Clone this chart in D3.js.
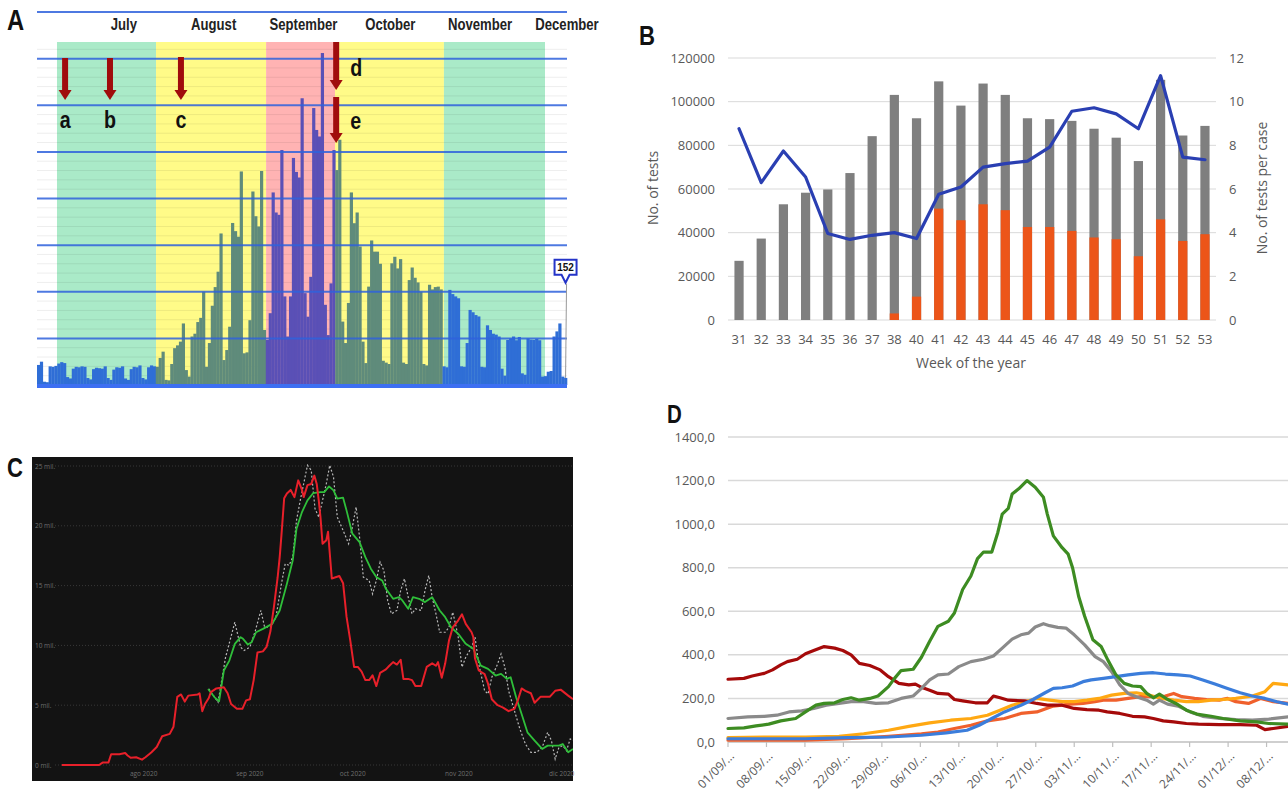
<!DOCTYPE html>
<html>
<head>
<meta charset="utf-8">
<script src="https://cdn.jsdelivr.net/npm/d3@7"></script>
<style>
  body { margin: 0; background: #fff; }
  svg { display: block; }
</style>
</head>
<body>
<svg id="fig" width="1288" height="795"></svg>
<script>
////////////////////////////////////////////////////////////
// DATA
////////////////////////////////////////////////////////////

// panel A: daily cases, day 0 = 1 June 2020
var casesA = [
  430, 500, 70, 60, 400, 390, 410, 460, 490, 470, 170, 140, 350, 390, 380, 400, 390, 150, 120, 340,
  370, 360, 350, 400, 150, 110, 330, 380, 370, 400, 140, 110, 340, 390, 380, 420, 150, 120, 380, 420,
  400, 390, 580, 715, 110, 100, 450, 790, 850, 930, 1320, 320, 180, 1040, 1100, 1350, 1440, 2000, 390, 900,
  1700, 2100, 2430, 3250, 535, 750, 1250, 3475, 3300, 3180, 4580, 680, 700, 1390, 4150, 3620, 3400, 4590, 1180, 965,
  1540, 4130, 3700, 3650, 5040, 1900, 1040, 1900, 4870, 4570, 4450, 6150, 1970, 1465, 2320, 5940, 5470, 5330, 7120, 1720,
  1070, 2180, 5040, 4610, 5260, 1360, 900, 1760, 4130, 3470, 3700, 2970, 930, 470, 2110, 3100, 2860, 2860, 2600, 520,
  480, 450, 2610, 2750, 2500, 2700, 480, 450, 2250, 2520, 2300, 2200, 2000, 450, 420, 2150, 2050, 2100, 2110, 2050,
  400, 380, 2040, 1950, 1900, 1860, 400, 390, 900, 1610, 1560, 1500, 1470, 390, 380, 1280, 1180, 1100, 1080, 1040,
  350, 200, 965, 1000, 1040, 960, 1030, 250, 220, 1000, 970, 965, 990, 960, 180, 190, 285, 300, 1040, 1150,
  1320, 180, 152
];
var bandStart = [6.9, 41.1, 79.1, 102.9, 140.5];
var bandEnd   = [41.1, 79.1, 102.9, 140.5, 175.4];
var bandPhase = ["green", "yellow", "red", "yellow", "green"];
var monthDaysA  = [30, 61, 92, 122, 153, 183];
var monthNamesA = ["July", "August", "September", "October", "November", "December"];
var arrowDays   = [9.7, 25.2, 49.7, 103.3, 103.3];
var arrowLabels = ["a", "b", "c", "d", "e"];
var lastLabel = "152";

// panel B: weekly tests
var weeks = ["31","32","33","34","35","36","37","38","40","41","42","43","44","45","46","47","48","49","50","51","52","53"];
var testsTotal = [27100, 37300, 53000, 58300, 59800, 67300, 84200, 103100, 92400, 109300, 98200,
                  108300, 103100, 92400, 92000, 91200, 87600, 83500, 72800, 110000, 84500, 88900];
var testsPart  = [0, 0, 0, 0, 0, 0, 0, 3000, 10700, 51000, 45700,
                  53000, 50300, 42600, 42600, 40800, 37800, 37000, 29200, 46100, 36200, 39300];
var testsPerCase = [8.76, 6.29, 7.74, 6.55, 3.96, 3.69, 3.88, 4.0, 3.73, 5.76, 6.09,
                    7.0, 7.16, 7.28, 7.92, 9.56, 9.72, 9.44, 8.76, 11.19, 7.46, 7.34];

// panel C: [day from 1 Aug 2020, thousands]
var cRed = [[-23.9,0],[-13,0],[-12,0.2],[-10.3,0.2],[-9.5,0.9],[-7.1,0.9],[-5.4,1.0],[-4.7,0.8],[-3.8,0.6],[-2.2,0.65],
  [-0.5,0.45],[0.5,0.65],[2.2,1.05],[3.8,1.5],[5.4,2.4],[7.6,2.6],[8.7,3.2],[9.8,5.7],[10.9,5.9],[12,5.3],
  [13,5.8],[15.8,5.9],[16.3,6.0],[17.1,4.5],[17.9,5.1],[19,5.6],[19.6,6.1],[21.2,6.4],[23.4,6.5],[24.5,6.0],
  [25.5,5.1],[27.2,4.7],[28.8,4.7],[29.9,5.4],[31,5.5],[32.1,7.1],[33.2,9.4],[34.8,9.5],[35.9,9.9],[37,11.2],
  [38,13.2],[39.1,15.7],[39.7,17.4],[40.2,19.2],[41,22.3],[41.8,22.7],[42.9,23.0],[44,22.4],[45.1,23.8],[46.2,23.0],
  [46.7,22.4],[47.8,23.4],[48.9,23.5],[49.8,24.2],[50.5,23.5],[51.1,22.1],[51.6,20.7],[52.2,18.5],[53.3,18.8],[53.8,19.5],
  [54.9,15.6],[56,15.7],[57.1,15.8],[58.2,15.2],[59.2,12.4],[60.3,10.4],[61.4,8.2],[62.5,8.2],[63.6,7.8],[64.7,7.1],
  [65.8,7.1],[66.8,7.5],[67.9,6.6],[69,7.7],[70.7,8.0],[71.7,8.3],[72.8,8.6],[73.9,8.4],[75,8.8],[75.8,7.2],
  [77.2,7.2],[78.3,7.1],[79.3,6.6],[81,6.6],[82.6,8.2],[84.2,8.5],[85.3,8.3],[85.9,8.6],[87,7.3],[88,8.5],
  [89.1,10.4],[90.2,11.5],[91.8,12.1],[92.9,12.6],[94,11.8],[95.7,11.1],[96.2,10.7],[96.7,8.9],[97.8,7.9],[99.5,7.6],
  [100.5,6.8],[101.6,5.5],[103.3,5.0],[104.9,4.8],[106.5,4.5],[108.2,4.7],[109.2,5.4],[110.3,6.4],[111.4,6.2],[113,6.0],
  [114.1,5.2],[115.8,5.7],[118.5,5.7],[120.1,6.2],[121.7,6.3],[123.9,5.8],[125.3,5.5]];
var cGreen = [[18.8,6.36],[20.7,5.66],[22,5.33],[23.4,7.9],[25,8.73],[26.6,10.13],[28.3,10.69],[29,10.55],[30.4,10.07],[31.5,10.27],
  [32.8,11.1],[34.8,11.38],[37.5,11.8],[39.7,12.92],[41.8,15.15],[43.5,17.1],[44.6,19.75],[46.2,21.15],[47.8,22.13],[49.5,22.74],
  [51.6,22.82],[52.7,22.82],[54.1,23.3],[55.4,22.96],[56.5,22.27],[58.2,22.35],[59.2,21.29],[60.9,19.34],[63,18.64],[64.7,17.38],
  [66.3,16.41],[67.9,15.71],[69.6,15.43],[70.7,14.73],[72.8,13.9],[74.5,14.03],[75.5,13.76],[77.2,13.06],[78.6,14.03],[80.4,13.9],
  [82.1,13.62],[84.2,14.03],[86.4,12.92],[88,12.36],[89.7,11.52],[91.8,10.97],[94,10.13],[96.2,9.71],[98.4,8.31],[100.5,8.04],
  [102.7,7.48],[104.3,7.62],[106,7.2],[107.1,7.34],[108.7,5.66],[110.3,4.27],[112,2.73],[114.1,2.04],[116.3,1.34],[117.9,1.62],
  [121.2,1.62],[122.3,1.76],[123.9,1.06],[125.3,1.34]];
var cGray = [[19,6.36],[21.7,5.25],[23.9,9.01],[26.6,11.94],[28.3,9.85],[29.3,9.57],[31,9.85],[32.6,11.24],[34.2,12.92],[35.3,11.52],
  [37,11.52],[38.6,12.36],[40.2,15.15],[41.3,16.82],[42.4,16.69],[43.5,17.38],[44.6,20.45],[45.7,22.13],[46.7,23.52],[47.8,25.06],
  [48.9,24.64],[50,21.43],[51.1,20.73],[52.2,22.13],[53.3,23.52],[54.3,25.06],[55.4,24.08],[56.5,20.73],[58.2,19.62],[59.8,18.5],
  [60.9,19.89],[62,21.57],[63,19.06],[64.1,15.71],[65.8,15.43],[66.8,14.31],[67.9,15.43],[69,16.96],[70.1,16.27],[71.2,13.76],
  [72.3,12.64],[73.9,12.92],[75,14.59],[76.1,15.57],[77.2,14.03],[78.3,12.64],[79.3,13.06],[81,12.92],[82.1,14.59],[83.2,15.85],
  [84.2,14.03],[85.3,12.64],[86.4,11.1],[88,11.1],[89.1,11.52],[90.2,12.78],[91,11.8],[91.8,10.69],[92.9,8.18],[94,9.01],
  [95.7,9.85],[96.7,10.69],[97.8,8.45],[99.5,6.22],[100.5,5.94],[101.6,7.34],[103.3,8.45],[104.3,9.29],[105.4,8.18],[106.5,6.22],
  [108.2,4.55],[109.8,3.01],[111.4,1.76],[113,1.06],[114.7,1.06],[116.3,1.48],[117.9,2.73],[119,2.04],[120.1,0.5],[121.2,1.48],
  [122.3,1.62],[123.4,1.2],[124.5,2.18],[125.3,2.04]];
var cTicks = [0, 5, 10, 15, 20, 25];
var cMonthDays = [0, 31, 61, 92, 122];
var cMonthNames = ["ago 2020", "sep 2020", "oct 2020", "nov 2020", "dic 2020"];

// panel D: [day from 01/09, rate]
var dDarkRed = [[0,288],[2.9,292],[4.4,303],[6.6,315],[8.1,331],[9.6,354],[10.8,369],[12.6,380],[14.1,405],[15.6,420],
  [17.5,438],[19.4,431],[20.9,420],[22.4,400],[23.9,361],[25.8,351],[27.7,331],[29.2,300],[31.1,269],[32.9,262],
  [34.1,266],[35.2,251],[36.7,238],[38.2,223],[40.1,220],[41.2,195],[42.7,189],[45,180],[47.2,180],[48.3,211],
  [49.5,203],[51,192],[54,189],[56.2,177],[58.1,169],[60.8,169],[63,154],[65.3,149],[67.5,146],[69,138],
  [71.3,131],[73.6,118],[75.8,115],[77.4,108],[79.2,97],[81.1,92],[83.4,85],[85.6,82],[89.4,80],[93.2,80],
  [96.2,77],[97.7,57],[99.2,62],[101.9,72]];
var dGreen = [[0,62],[2.9,65],[5.1,74],[7.4,82],[9.6,97],[12.3,108],[14.1,138],[16,169],[17.5,177],[19.4,180],
  [20.9,195],[22.4,203],[23.9,192],[25.8,200],[27.3,211],[29.2,254],[30.3,292],[31.5,328],[33.7,334],[35.2,389],
  [36.7,462],[38.2,531],[40.1,554],[41.2,592],[42.7,700],[44.2,762],[45.4,842],[46.5,872],[48,872],[49.1,962],
  [49.9,1046],[51,1072],[51.7,1138],[52.9,1162],[54.4,1200],[55.9,1169],[57.4,1123],[58.1,1046],[59.2,946],[60.8,892],
  [61.9,862],[62.7,800],[63.8,669],[64.9,577],[66.4,469],[67.9,438],[69.1,377],[70.6,308],[72.1,269],[73.6,257],
  [75.1,254],[76.2,223],[77.4,203],[78.5,220],[80,195],[81.5,177],[83.4,146],[85.3,128],[87.9,118],[90.1,108],
  [93.2,97],[96.2,92],[98.4,85],[101.9,82]];
var dGray = [[0,108],[3.6,115],[6.6,118],[8.9,123],[11.1,138],[13.4,143],[15.6,154],[17.9,169],[20.2,177],[22.4,185],
  [24.7,185],[26.9,177],[29.2,180],[31.5,200],[33.7,211],[35.2,246],[36.7,285],[38.2,308],[40.1,312],[42,346],
  [44.2,369],[46.5,380],[48.3,395],[49.9,431],[51.7,472],[53.3,492],[54.7,500],[55.9,528],[57.4,543],[58.5,534],
  [60,526],[61.5,523],[63,492],[64.9,446],[66.8,392],[68.3,369],[69.8,323],[71.3,262],[72.8,223],[74.3,208],
  [76.2,192],[77.4,174],[78.5,192],[80,174],[81.9,165],[84.1,138],[86.4,118],[89.4,108],[92.4,103],[95.4,100],
  [98.4,105],[101.9,115]];
var dBlue = [[0,15],[6.6,15],[14.1,15],[21.7,20],[29.2,23],[35.2,31],[39.7,42],[43.5,54],[45.7,77],[48,108],
  [50.3,138],[53.3,169],[55.5,195],[57.7,226],[59.2,246],[60.8,249],[62.7,257],[64.6,277],[66.1,285],[68.3,292],
  [70.6,300],[72.8,308],[75.1,315],[77.4,318],[79.6,312],[81.9,308],[84.1,303],[86.4,285],[88.6,266],[90.9,246],
  [93.2,226],[95.4,211],[97.7,200],[99.9,185],[101.9,174]];
var dOrangeRed = [[0,8],[6.6,8],[14.1,8],[21.7,15],[29.2,26],[35.2,38],[38.2,46],[41.2,62],[44.2,77],[47.2,97],
  [50.3,108],[53.3,131],[56.2,138],[59.2,165],[62.3,174],[64.6,177],[66.8,185],[68.3,192],[70.6,192],[72.8,200],
  [75.1,208],[77.4,208],[79.6,211],[81.1,223],[82.6,208],[84.9,200],[87.1,195],[89.4,192],[90.9,200],[92.4,185],
  [94.7,177],[96.9,200],[99.2,185],[101.9,177]];
var dAmber = [[0,20],[6.6,23],[14.1,23],[20.2,26],[24.7,38],[29.2,54],[32.9,72],[36.7,88],[40.5,100],[44.2,108],
  [47.2,123],[49.5,146],[51.7,169],[54,185],[56.2,200],[58.5,192],[60.8,185],[63,185],[65.3,192],[67.5,200],
  [69.8,215],[72.1,223],[74.3,226],[76.6,215],[78.9,200],[81.1,192],[83.4,185],[85.6,185],[87.9,192],[90.1,195],
  [92.4,200],[95.4,211],[97.7,231],[99.2,269],[101.9,262]];
var dTickDays = [0, 7, 14, 21, 28, 35, 42, 49, 56, 63, 70, 77, 84, 91, 98];
var dTickLabels = ["01/09/\u2026","08/09/\u2026","15/09/\u2026","22/09/\u2026","29/09/\u2026","06/10/\u2026","13/10/\u2026",
  "20/10/\u2026","27/10/\u2026","03/11/\u2026","10/11/\u2026","17/11/\u2026","24/11/\u2026","01/12/\u2026","08/12/\u2026"];

////////////////////////////////////////////////////////////
// DRAWING
////////////////////////////////////////////////////////////
var svg = d3.select("#fig");
svg.append("rect").attr("width", 1288).attr("height", 795).attr("fill", "#fff");

var boldFont = "'Liberation Sans', Arial, sans-serif";
var officeFont = "'Open Sans', 'Noto Sans', sans-serif";

// condensed bold text, used for panel letters and A annotations
function narrowText(g, t, x, y, size, anchor) {
    return g.append("text")
        .attr("transform", "translate(" + x + "," + y + ") scale(0.82,1)")
        .attr("font-family", boldFont)
        .attr("font-weight", "bold")
        .attr("font-size", size)
        .attr("text-anchor", anchor || "start")
        .attr("fill", "#111")
        .text(t);
}

make_panel_a();
make_panel_b();
make_panel_c();
make_panel_d();

function make_panel_a() {
    var g = svg.append("g");
    var x = d3.scaleLinear().domain([0, 183]).range([37, 567]);
    var y = d3.scaleLinear().domain([0, 8000]).range([385, 12]);
    var bandTop = 42;
    var bandFill = {green: "#aaeac8", yellow: "#fffb88", red: "#ffb3b3"};
    var barFill = {none: "#2f6ed6", green: "#2f6ed6", yellow: "#5f8b7b", red: "#5a50b6"};

    // coloured periods
    bandStart.forEach(function(s, i) {
        g.append("rect")
            .attr("x", x(s)).attr("y", bandTop)
            .attr("width", x(bandEnd[i]) - x(s))
            .attr("height", y(0) - bandTop)
            .attr("fill", bandFill[bandPhase[i]]);
    });

    // faint minor lines
    g.selectAll(".minor")
        .data(d3.range(200, 7400, 200).filter(function(v) { return v % 1000 != 0; }))
        .enter().append("line")
        .attr("x1", x(0)).attr("x2", x(183))
        .attr("y1", function(v) { return y(v); })
        .attr("y2", function(v) { return y(v); })
        .attr("stroke", "#000").attr("stroke-opacity", 0.07).attr("stroke-width", 1);

    function phaseOf(d) {
        for (var i = 0; i < bandStart.length; i++) {
            if (d + 0.5 >= bandStart[i] && d + 0.5 < bandEnd[i]) return bandPhase[i];
        }
        return "none";
    }

    var w = x(1) - x(0);
    g.selectAll(".bar")
        .data(casesA)
        .enter().append("rect")
        .attr("x", function(v, i) { return x(i); })
        .attr("width", w + 0.3)
        .attr("y", function(v) { return y(v); })
        .attr("height", function(v) { return y(0) - y(v); })
        .attr("fill", function(v, i) { return barFill[phaseOf(i)]; });

    // blue gridlines
    g.selectAll(".major")
        .data(d3.range(1000, 9000, 1000))
        .enter().append("line")
        .attr("x1", x(0)).attr("x2", x(183))
        .attr("y1", function(v) { return y(v); })
        .attr("y2", function(v) { return y(v); })
        .attr("stroke", "#2f62dc").attr("stroke-opacity", 0.85).attr("stroke-width", 2);
    g.append("line")
        .attr("x1", x(0)).attr("x2", x(183))
        .attr("y1", y(0) + 1).attr("y2", y(0) + 1)
        .attr("stroke", "#3d6ff2").attr("stroke-width", 4);

    // month labels
    monthNamesA.forEach(function(m, i) {
        narrowText(g, m, x(monthDaysA[i]), 30, 16, "middle").attr("fill", "#222");
    });

    // arrows
    var span = {a: [58, 100], b: [58, 100], c: [57, 100], d: [42, 90], e: [97, 143]};
    arrowDays.forEach(function(d, i) {
        var lab = arrowLabels[i];
        var ax = x(d), top = span[lab][0], tip = span[lab][1];
        g.append("rect").attr("x", ax - 3).attr("y", top).attr("width", 6).attr("height", tip - top - 8)
            .attr("fill", "#a00c0c");
        g.append("path")
            .attr("d", "M" + (ax - 6.5) + "," + (tip - 10) + "L" + (ax + 6.5) + "," + (tip - 10) + "L" + ax + "," + tip + "Z")
            .attr("fill", "#a00c0c");
        if (lab == "d" || lab == "e") {
            narrowText(g, lab, ax + 14, tip - 14, 24);
        } else {
            narrowText(g, lab, ax, 128, 24, "middle");
        }
    });

    // value callout on last bar
    var last = casesA.length - 1;
    var lx = x(last) + w / 2;
    var tipY = y(2000) - 8;
    g.append("line").attr("x1", lx + 1).attr("x2", lx).attr("y1", tipY).attr("y2", y(casesA[last]))
        .attr("stroke", "#999").attr("stroke-width", 1);
    g.append("path")
        .attr("d", "M" + (lx - 11) + "," + (tipY - 24) + "h22v15h-7l-4,8l-4,-8h-7z")
        .attr("fill", "#fff").attr("stroke", "#2434c8").attr("stroke-width", 2);
    g.append("text").attr("x", lx).attr("y", tipY - 12.5)
        .attr("text-anchor", "middle").attr("font-family", boldFont).attr("font-weight", "bold")
        .attr("font-size", 10).attr("fill", "#111").text(lastLabel);

    narrowText(svg, "A", 7, 30, 29);
}

function make_panel_b() {
    var g = svg.append("g");
    var x = d3.scaleBand().domain(weeks).range([728, 1216]).paddingInner(0.585).paddingOuter(0.29);
    var y = d3.scaleLinear().domain([0, 120000]).range([320, 58]);
    var y2 = d3.scaleLinear().domain([0, 12]).range([320, 58]);

    y.ticks(6).forEach(function(t) {
        g.append("line").attr("x1", 728).attr("x2", 1216).attr("y1", y(t)).attr("y2", y(t))
            .attr("stroke", "#d9d9d9").attr("stroke-width", 1);
        g.append("text").attr("x", 715).attr("y", y(t) + 4.5).attr("text-anchor", "end")
            .attr("font-family", officeFont).attr("font-size", 13).attr("fill", "#595959").text(t);
    });
    y2.ticks(6).forEach(function(t) {
        g.append("text").attr("x", 1229).attr("y", y2(t) + 4.5)
            .attr("font-family", officeFont).attr("font-size", 13).attr("fill", "#595959").text(t);
    });

    g.selectAll(".tot").data(weeks).enter().append("rect")
        .attr("x", function(d) { return x(d); }).attr("width", x.bandwidth())
        .attr("y", function(d, i) { return y(testsTotal[i]); })
        .attr("height", function(d, i) { return y(0) - y(testsTotal[i]); })
        .attr("fill", "#7f7f7f");
    g.selectAll(".part").data(weeks).enter().append("rect")
        .attr("x", function(d) { return x(d); }).attr("width", x.bandwidth())
        .attr("y", function(d, i) { return y(testsPart[i]); })
        .attr("height", function(d, i) { return y(0) - y(testsPart[i]); })
        .attr("fill", "#ec5519");

    var line = d3.line()
        .x(function(d, i) { return x(weeks[i]) + x.bandwidth() / 2; })
        .y(function(d) { return y2(d); });
    g.append("path").datum(testsPerCase)
        .attr("fill", "none").attr("stroke", "#2a3fb2").attr("stroke-width", 3.2)
        .attr("stroke-linejoin", "round").attr("stroke-linecap", "round")
        .attr("d", line);

    weeks.forEach(function(wk) {
        g.append("text").attr("x", x(wk) + x.bandwidth() / 2).attr("y", 344).attr("text-anchor", "middle")
            .attr("font-family", officeFont).attr("font-size", 13).attr("fill", "#595959").text(wk);
    });
    g.append("text").attr("x", 971).attr("y", 368).attr("text-anchor", "middle")
        .attr("font-family", officeFont).attr("font-size", 14).attr("fill", "#595959").text("Week of the year");
    g.append("text").attr("transform", "translate(658,188) rotate(-90)").attr("text-anchor", "middle")
        .attr("font-family", officeFont).attr("font-size", 14).attr("fill", "#595959").text("No. of tests");
    g.append("text").attr("transform", "translate(1267,188) rotate(-90)").attr("text-anchor", "middle")
        .attr("font-family", officeFont).attr("font-size", 14).attr("fill", "#595959").text("No. of tests per case");

    narrowText(svg, "B", 639, 45, 27);
}

function make_panel_c() {
    var g = svg.append("g");
    var x = d3.scaleLinear().domain([-32.6, 125.3]).range([32, 573]);
    var y = d3.scaleLinear().domain([0, 25]).range([765, 466]);

    g.append("rect").attr("x", 32).attr("y", 457).attr("width", 541).attr("height", 324).attr("fill", "#131313");
    svg.append("clipPath").attr("id", "clipC").append("rect")
        .attr("x", 32).attr("y", 457).attr("width", 541).attr("height", 324);

    cTicks.forEach(function(t) {
        g.append("line").attr("x1", 55).attr("x2", 573).attr("y1", y(t)).attr("y2", y(t))
            .attr("stroke", "#383838").attr("stroke-width", 1).attr("stroke-dasharray", "1,2");
        g.append("text").attr("x", 35).attr("y", y(t) + 2.5)
            .attr("font-family", officeFont).attr("font-size", 6.5).attr("fill", "#6e6e6e").text(t + " mil.");
    });
    cMonthNames.forEach(function(m, i) {
        g.append("text").attr("x", x(cMonthDays[i])).attr("y", 776).attr("text-anchor", "middle")
            .attr("font-family", officeFont).attr("font-size", 6.5).attr("fill", "#6e6e6e").text(m);
    });

    var line = d3.line().x(function(d) { return x(d[0]); }).y(function(d) { return y(d[1]); });
    var lines = g.append("g").attr("clip-path", "url(#clipC)");
    lines.append("path").datum(cGray).attr("d", line).attr("fill", "none")
        .attr("stroke", "#b8b8b8").attr("stroke-width", 1.2).attr("stroke-dasharray", "2,2");
    lines.append("path").datum(cGreen).attr("d", line).attr("fill", "none")
        .attr("stroke", "#2fbf3a").attr("stroke-width", 1.8).attr("stroke-linejoin", "round");
    lines.append("path").datum(cRed).attr("d", line).attr("fill", "none")
        .attr("stroke", "#e8202a").attr("stroke-width", 2).attr("stroke-linejoin", "round");

    narrowText(svg, "C", 7, 477, 27);
}

function make_panel_d() {
    var g = svg.append("g");
    var x = d3.scaleLinear().domain([0, 101.9]).range([728, 1288]);
    var y = d3.scaleLinear().domain([0, 1400]).range([742, 437]);
    var fmt = function(v) { return d3.format(".1f")(v).replace(".", ","); };

    d3.range(0, 1600, 200).forEach(function(t) {
        g.append("line").attr("x1", 728).attr("x2", 1288).attr("y1", y(t)).attr("y2", y(t))
            .attr("stroke", t == 0 ? "#bfbfbf" : "#d9d9d9").attr("stroke-width", 1.5);
        g.append("text").attr("x", 715).attr("y", y(t) + 4.5).attr("text-anchor", "end")
            .attr("font-family", officeFont).attr("font-size", 13).attr("fill", "#595959").text(fmt(t));
    });
    dTickDays.forEach(function(d, i) {
        g.append("line").attr("x1", x(d)).attr("x2", x(d)).attr("y1", y(0)).attr("y2", y(0) + 5)
            .attr("stroke", "#bfbfbf").attr("stroke-width", 1.2);
        g.append("text").attr("transform", "translate(" + (x(d) + 4) + "," + (y(0) + 12) + ") rotate(-45)")
            .attr("text-anchor", "end").attr("dy", "0.35em")
            .attr("font-family", officeFont).attr("font-size", 12).attr("fill", "#595959").text(dTickLabels[i]);
    });

    var line = d3.line().x(function(d) { return x(d[0]); }).y(function(d) { return y(d[1]); });
    var series = [[dOrangeRed, "#f0602c"], [dAmber, "#ffa812"], [dDarkRed, "#a50a0a"],
                  [dGray, "#8a8a8a"], [dBlue, "#3b7ddb"], [dGreen, "#3d8c22"]];
    series.forEach(function(s) {
        g.append("path").datum(s[0]).attr("d", line).attr("fill", "none")
            .attr("stroke", s[1]).attr("stroke-width", 3.2)
            .attr("stroke-linejoin", "round").attr("stroke-linecap", "round");
    });

    narrowText(svg, "D", 667, 423, 25);
}
</script>
</body>
</html>
